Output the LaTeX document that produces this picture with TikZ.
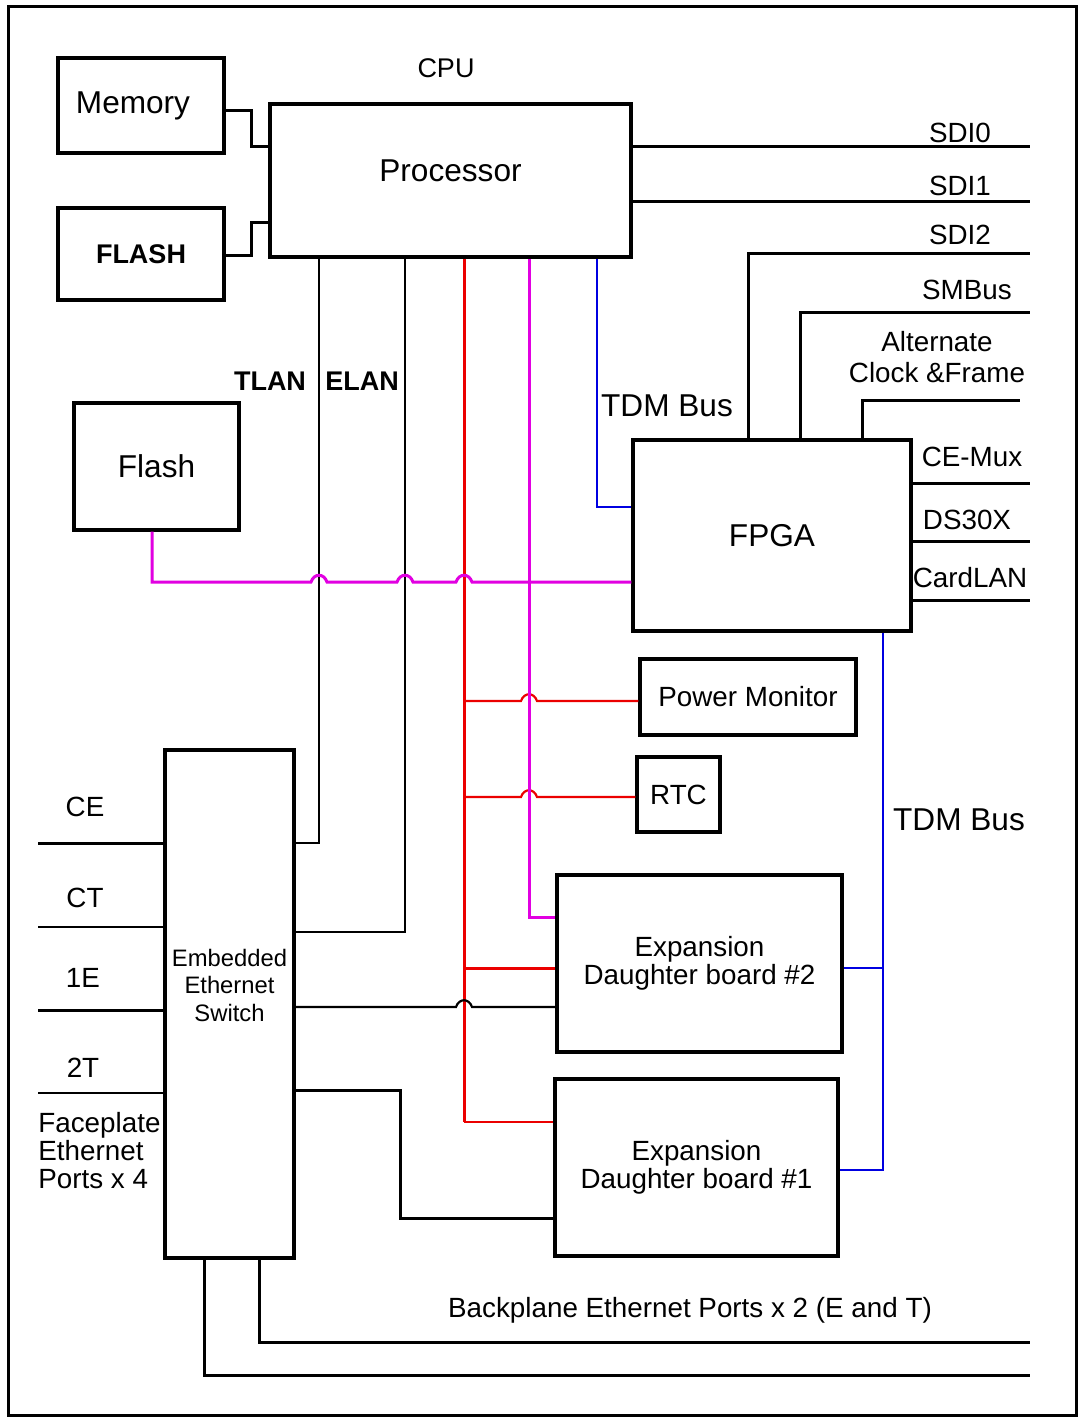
\documentclass[tikz,border=0pt]{standalone}
\usepackage{fontspec}
\setmainfont{Liberation Sans}
\newcommand\fbig{\fontsize{15.8}{18}\selectfont}
\newcommand\fsmall{\fontsize{13.9}{14}\selectfont}
\newcommand\fmid{\fontsize{13.5}{15.5}\selectfont}
\newcommand\ftiny{\fontsize{11.9}{13.75}\selectfont}
\definecolor{busred}{RGB}{235,0,0}
\definecolor{busmag}{RGB}{225,0,225}
\definecolor{busblue}{RGB}{0,0,225}
\begin{document}
\begin{tikzpicture}[x=0.5pt,y=-0.5pt,
  box/.style={draw,line width=1.6pt,inner sep=0pt,font=\fbig},
  wire/.style={line width=1.5pt},
  thinw/.style={line width=1.1pt},
  redw/.style={line width=1.5pt,draw=busred},
  redthin/.style={line width=1.1pt,draw=busred},
  magw/.style={line width=1.5pt,draw=busmag},
  bluew/.style={line width=1.3pt,draw=busblue},
  lbl/.style={inner sep=0pt,font=\fsmall},
  lblbig/.style={inner sep=0pt,font=\fbig}]
\useasboundingbox (0,0) rectangle (1084,1420);
\draw[line width=1.5pt] (8,6) rectangle (1076,1415);

% boxes
\node[box,minimum width=83pt,minimum height=47.5pt] (mem) at (141,105.5) {Memory\hspace*{8pt}};
\node[box,minimum width=83pt,minimum height=46pt,font=\fmid\bfseries] (flashu) at (141,254) {FLASH};
\node[box,minimum width=180.5pt,minimum height=76.5pt,label={[font=\fbig,yshift=5pt]center:Processor}] (proc) at (450.5,180.5) {};
\node[box,minimum width=139pt,minimum height=95.5pt] (fpga) at (772,535.5) {FPGA};
\node[box,minimum width=82.5pt,minimum height=63.5pt] (flash) at (156.5,466.5) {Flash};
\node[box,minimum width=108pt,minimum height=38pt,font=\fsmall] (pm) at (748,697) {Power Monitor};
\node[box,minimum width=41.5pt,minimum height=37.5pt,font=\fsmall] (rtc) at (678.5,794.5) {RTC};
\node[box,minimum width=64.5pt,minimum height=254pt,label={[font=\ftiny,align=center,yshift=9.5pt]center:Embedded\\Ethernet\\Switch}] (sw) at (229.5,1004) {};
\node[box,minimum width=142.5pt,minimum height=88.5pt,font=\fsmall,align=center] (exp2) at (699.5,963.5) {Expansion\\Daughter board \#2};
\node[box,minimum width=141.5pt,minimum height=88.5pt,font=\fsmall,align=center] (exp1) at (696.5,1167.5) {Expansion\\Daughter board \#1};

% helper coordinates
\coordinate (yMo) at (0,110); \coordinate (yFo) at (0,255);
\coordinate (yMem) at (0,146); \coordinate (yFl) at (0,222);
\coordinate (sdi0) at (1030,146); \coordinate (sdi1) at (1030,201);
\coordinate (sdi2) at (1030,253); \coordinate (smb) at (1030,312);
\coordinate (alt) at (1020,400); \coordinate (cemux) at (1030,483);
\coordinate (ds30) at (1030,541); \coordinate (clan) at (1030,600);
\coordinate (xS2) at (748,0); \coordinate (xSM) at (800,0); \coordinate (xAl) at (862,0);
\coordinate (xTd) at (597,0); \coordinate (yTd) at (0,507);
\coordinate (xTL) at (319,0); \coordinate (yTL) at (0,843);
\coordinate (xEL) at (405,0); \coordinate (yEL) at (0,932);
\coordinate (xR) at (464,0); \coordinate (xM) at (529,0);
\coordinate (yPM) at (0,701); \coordinate (yRTC) at (0,797);
\coordinate (yE2) at (0,968); \coordinate (yE1) at (0,1122); \coordinate (yMg) at (0,917);
\coordinate (xFl) at (152,0); \coordinate (yFlm) at (0,582);
\coordinate (ySE2) at (0,1007); \coordinate (ySE1) at (0,1090);
\coordinate (xSE1) at (400,0); \coordinate (ySE1b) at (0,1218);
\coordinate (xB) at (883,0); \coordinate (yB2) at (0,968); \coordinate (yB1) at (0,1170);
\coordinate (pCE) at (38,843); \coordinate (pCT) at (38,927);
\coordinate (p1E) at (38,1010); \coordinate (p2T) at (38,1093);
\coordinate (xBP1) at (204,0); \coordinate (xBP2) at (259,0);
\coordinate (bpE) at (1030,1375); \coordinate (bpT) at (1030,1342);

% CPU-side connectors
\draw[wire] (mem.east |- yMo) -- ++(26,0) |- (proc.west |- yMem);
\draw[wire] (flashu.east |- yFo) -- ++(26,0) |- (proc.west |- yFl);
\draw[wire] (proc.east |- sdi0) -- (sdi0);
\draw[wire] (proc.east |- sdi1) -- (sdi1);
\draw[wire] (fpga.north -| xS2) |- (sdi2);
\draw[wire] (fpga.north -| xSM) |- (smb);
\draw[wire] (fpga.north -| xAl) |- (alt);
\draw[wire] (fpga.east |- cemux) -- (cemux);
\draw[wire] (fpga.east |- ds30) -- (ds30);
\draw[wire] (fpga.east |- clan) -- (clan);
\draw[bluew] (proc.south -| xTd) |- (fpga.west |- yTd);
\draw[thinw] (proc.south -| xTL) |- (sw.east |- yTL);
\draw[thinw] (proc.south -| xEL) |- (sw.east |- yEL);
\draw[redw] (proc.south -| xR) -- (xR |- yE1);
\draw[redthin] (xR |- yPM) -- (521,701) .. controls (524,692) and (534,692) .. (537,701) -- (pm.west |- yPM);
\draw[redthin] (xR |- yRTC) -- (521,797) .. controls (524,788) and (534,788) .. (537,797) -- (rtc.west |- yRTC);
\draw[redw] (xR |- yE2) -- (exp2.west |- yE2);
\draw[redthin] (xR |- yE1) -- (exp1.west |- yE1);
\draw[magw] (proc.south -| xM) |- (exp2.west |- yMg);
\draw[magw] (flash.south -| xFl) |- (311,582) .. controls (314,573) and (324,573) .. (327,582)
  -- (397,582) .. controls (400,573) and (410,573) .. (413,582)
  -- (456,582) .. controls (459,573) and (469,573) .. (472,582) -- (fpga.west |- yFlm);
\draw[thinw] (sw.east |- ySE2) -- (456,1007) .. controls (459,998) and (469,998) .. (472,1007) -- (exp2.west |- ySE2);
\draw[wire] (sw.east |- ySE1) -| (xSE1 |- ySE1b) -- (exp1.west |- ySE1b);
\draw[bluew] (fpga.south -| xB) |- (exp1.east |- yB1);
\draw[bluew] (exp2.east |- yB2) -- (xB |- yB2);

% faceplate ports
\draw[wire] (pCE) -- (sw.west |- pCE);
\draw[thinw] (pCT) -- (sw.west |- pCT);
\draw[wire] (p1E) -- (sw.west |- p1E);
\draw[thinw] (p2T) -- (sw.west |- p2T);
% backplane ports
\draw[wire] (sw.south -| xBP1) |- (bpE);
\draw[wire] (sw.south -| xBP2) |- (bpT);

% labels
\node[lbl,font=\fmid] (cpu) at (446,68) {CPU};
\node[lbl] (lsdi0) at (960,133) {SDI0};
\node[lbl] (lsdi1) at (960,186) {SDI1};
\node[lbl] (lsdi2) at (960,235) {SDI2};
\node[lbl] (lsmb) at (967,290) {SMBus};
\node[lbl,align=center,font=\fontsize{13.9}{15.5}\selectfont] (lalt) at (937,357) {Alternate\\Clock \&Frame};
\node[lbl] (lcemux) at (972,457) {CE-Mux};
\node[lbl] (lds30) at (967,520) {DS30X};
\node[lbl] (lclan) at (970,578) {CardLAN};
\node[lblbig] (ltdm1) at (667,406) {TDM Bus};
\node[lblbig] (ltdm2) at (959,820) {TDM Bus};
\node[lbl,font=\fmid\bfseries] (ltlan) at (270,381) {TLAN};
\node[lbl,font=\fmid\bfseries] (lelan) at (362,381) {ELAN};
\node[lbl] (lce) at (85,807) {CE};
\node[lbl] (lct) at (85,898) {CT};
\node[lbl] (l1e) at (83,978) {1E};
\node[lbl] (l2t) at (83,1068) {2T};
\node[lbl,anchor=west,align=left] (lface) at (38,1151) {Faceplate\\Ethernet\\Ports x 4};
\node[lbl] (lback) at (690,1310) {Backplane Ethernet Ports x 2 (E and T)};
\end{tikzpicture}
\end{document}
